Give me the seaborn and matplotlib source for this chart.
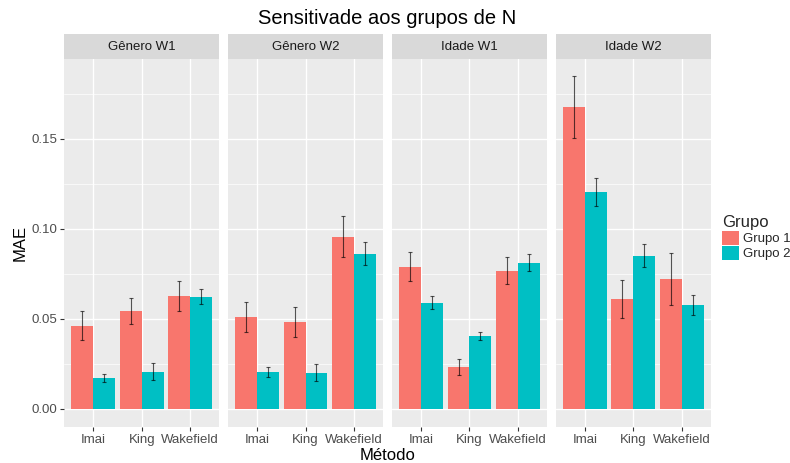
import numpy as np
import pandas as pd
import seaborn as sns
import matplotlib
matplotlib.use("Agg")
import matplotlib.pyplot as plt
from matplotlib.patches import Patch, Rectangle
from matplotlib.ticker import MultipleLocator

facetas = ["Gênero W1", "Gênero W2", "Idade W1", "Idade W2"]
metodos = ["Imai", "King", "Wakefield"]
grupos = ["Grupo 1", "Grupo 2"]

grupo1_mae = [[0.0461, 0.0544, 0.0628],
              [0.0511, 0.0483, 0.0956],
              [0.0789, 0.0233, 0.0767],
              [0.1678, 0.0611, 0.0722]]
grupo2_mae = [[0.0172, 0.0206, 0.0622],
              [0.0206, 0.0200, 0.0861],
              [0.0589, 0.0406, 0.0811],
              [0.1206, 0.0850, 0.0578]]
grupo1_err = [[0.0080, 0.0072, 0.0083],
              [0.0083, 0.0083, 0.0114],
              [0.0080, 0.0044, 0.0075],
              [0.0172, 0.0106, 0.0144]]
grupo2_err = [[0.0022, 0.0047, 0.0042],
              [0.0028, 0.0047, 0.0064],
              [0.0036, 0.0022, 0.0047],
              [0.0078, 0.0064, 0.0056]]

cores = ["#F8766D", "#00BFC4"]

rows = []
for fi, f in enumerate(facetas):
    for mi, m in enumerate(metodos):
        rows.append(dict(Faceta=f, Metodo=m, Grupo=grupos[0], MAE=grupo1_mae[fi][mi], err=grupo1_err[fi][mi]))
        rows.append(dict(Faceta=f, Metodo=m, Grupo=grupos[1], MAE=grupo2_mae[fi][mi], err=grupo2_err[fi][mi]))
df = pd.DataFrame(rows)

sns.set_theme(style="white")
plt.rcParams["font.family"] = ["Liberation Sans", "DejaVu Sans"]

W, H = 790, 463
fig = plt.figure(figsize=(W / 100, H / 100), dpi=100)

L, R = 64, 711
gap = 8.5
pw = (R - L - 3 * gap) / 4
ax_top, ax_bot = 59, 427
strip_top = 34

bar_w = 0.9
for fi, f in enumerate(facetas):
    x0 = L + fi * (pw + gap)
    ax = fig.add_axes([x0 / W, 1 - ax_bot / H, pw / W, (ax_bot - ax_top) / H])
    ax.set_facecolor("#EBEBEB")
    sub = df[df.Faceta == f]
    sns.barplot(data=sub, x="Metodo", y="MAE", hue="Grupo", order=metodos, hue_order=grupos,
                palette=cores, width=bar_w, saturation=1, linewidth=0, errorbar=None,
                legend=False, ax=ax, zorder=2)
    for gi, g in enumerate(grupos):
        s = sub[sub.Grupo == g].set_index("Metodo").loc[metodos]
        xs = np.arange(len(metodos)) + (gi - 0.5) * bar_w / 2
        ax.errorbar(xs, s["MAE"].values, yerr=s["err"].values, fmt="none",
                    ecolor="black", alpha=0.65, elinewidth=0.8, capsize=1.1,
                    capthick=0.8, zorder=3)
    ax.set_xlim(-0.6, 2.6)
    ax.set_ylim(-0.0102, 0.1944)
    ax.yaxis.set_major_locator(MultipleLocator(0.05))
    ax.yaxis.set_minor_locator(MultipleLocator(0.025))
    ax.grid(True, which="major", color="white", linewidth=1.0, zorder=0)
    ax.grid(True, which="minor", axis="y", color="white", linewidth=0.5, zorder=0)
    ax.set_axisbelow(True)
    for sp in ax.spines.values():
        sp.set_visible(False)
    ax.set_xlabel("")
    ax.set_ylabel("")
    ax.tick_params(axis="x", length=3, width=0.8, color="#333333", labelsize=9.5,
                   labelcolor="#4D4D4D", pad=2, bottom=True)
    if fi == 0:
        ax.tick_params(axis="y", which="major", length=3, width=0.8, color="#333333",
                       labelsize=9.5, labelcolor="#4D4D4D", pad=2, left=True)
        ax.tick_params(axis="y", which="minor", length=0)
        ax.set_yticks([0, 0.05, 0.10, 0.15])
        ax.set_yticklabels(["0.00", "0.05", "0.10", "0.15"])
    else:
        ax.tick_params(axis="y", which="both", left=False, labelleft=False)
    # strip
    fig.patches.append(Rectangle((x0 / W, 1 - ax_top / H), pw / W, (ax_top - strip_top) / H,
                                 transform=fig.transFigure, facecolor="#D9D9D9",
                                 edgecolor="none", zorder=1))
    fig.text((x0 + pw / 2) / W, 1 - ((ax_top + strip_top) / 2) / H, f,
             ha="center", va="center", fontsize=9.5, color="#1A1A1A")

fig.text((L + R) / 2 / W, 1 - 18 / H, "Sensitivade aos grupos de N",
         ha="center", va="center", fontsize=14.5, color="black")
fig.text((L + R) / 2 / W, 1 - 455 / H, "Método", ha="center", va="center",
         fontsize=12, color="black")
fig.text(20 / W, 1 - (ax_top + ax_bot) / 2 / H, "MAE", ha="center", va="center",
         rotation=90, fontsize=12, color="black")

handles = [Patch(facecolor=c, edgecolor="none", label=g) for c, g in zip(cores, grupos)]
leg = fig.legend(handles=handles, title="Grupo", loc="upper left",
                 bbox_to_anchor=(718 / W, 1 - 211 / H), frameon=False,
                 fontsize=9.5, title_fontsize=12, handlelength=1.3, handleheight=1.3,
                 handletextpad=0.3, labelspacing=0.05, borderaxespad=0, borderpad=0.3)
leg._legend_box.align = "left"

fig.savefig("out.png", dpi=100)
